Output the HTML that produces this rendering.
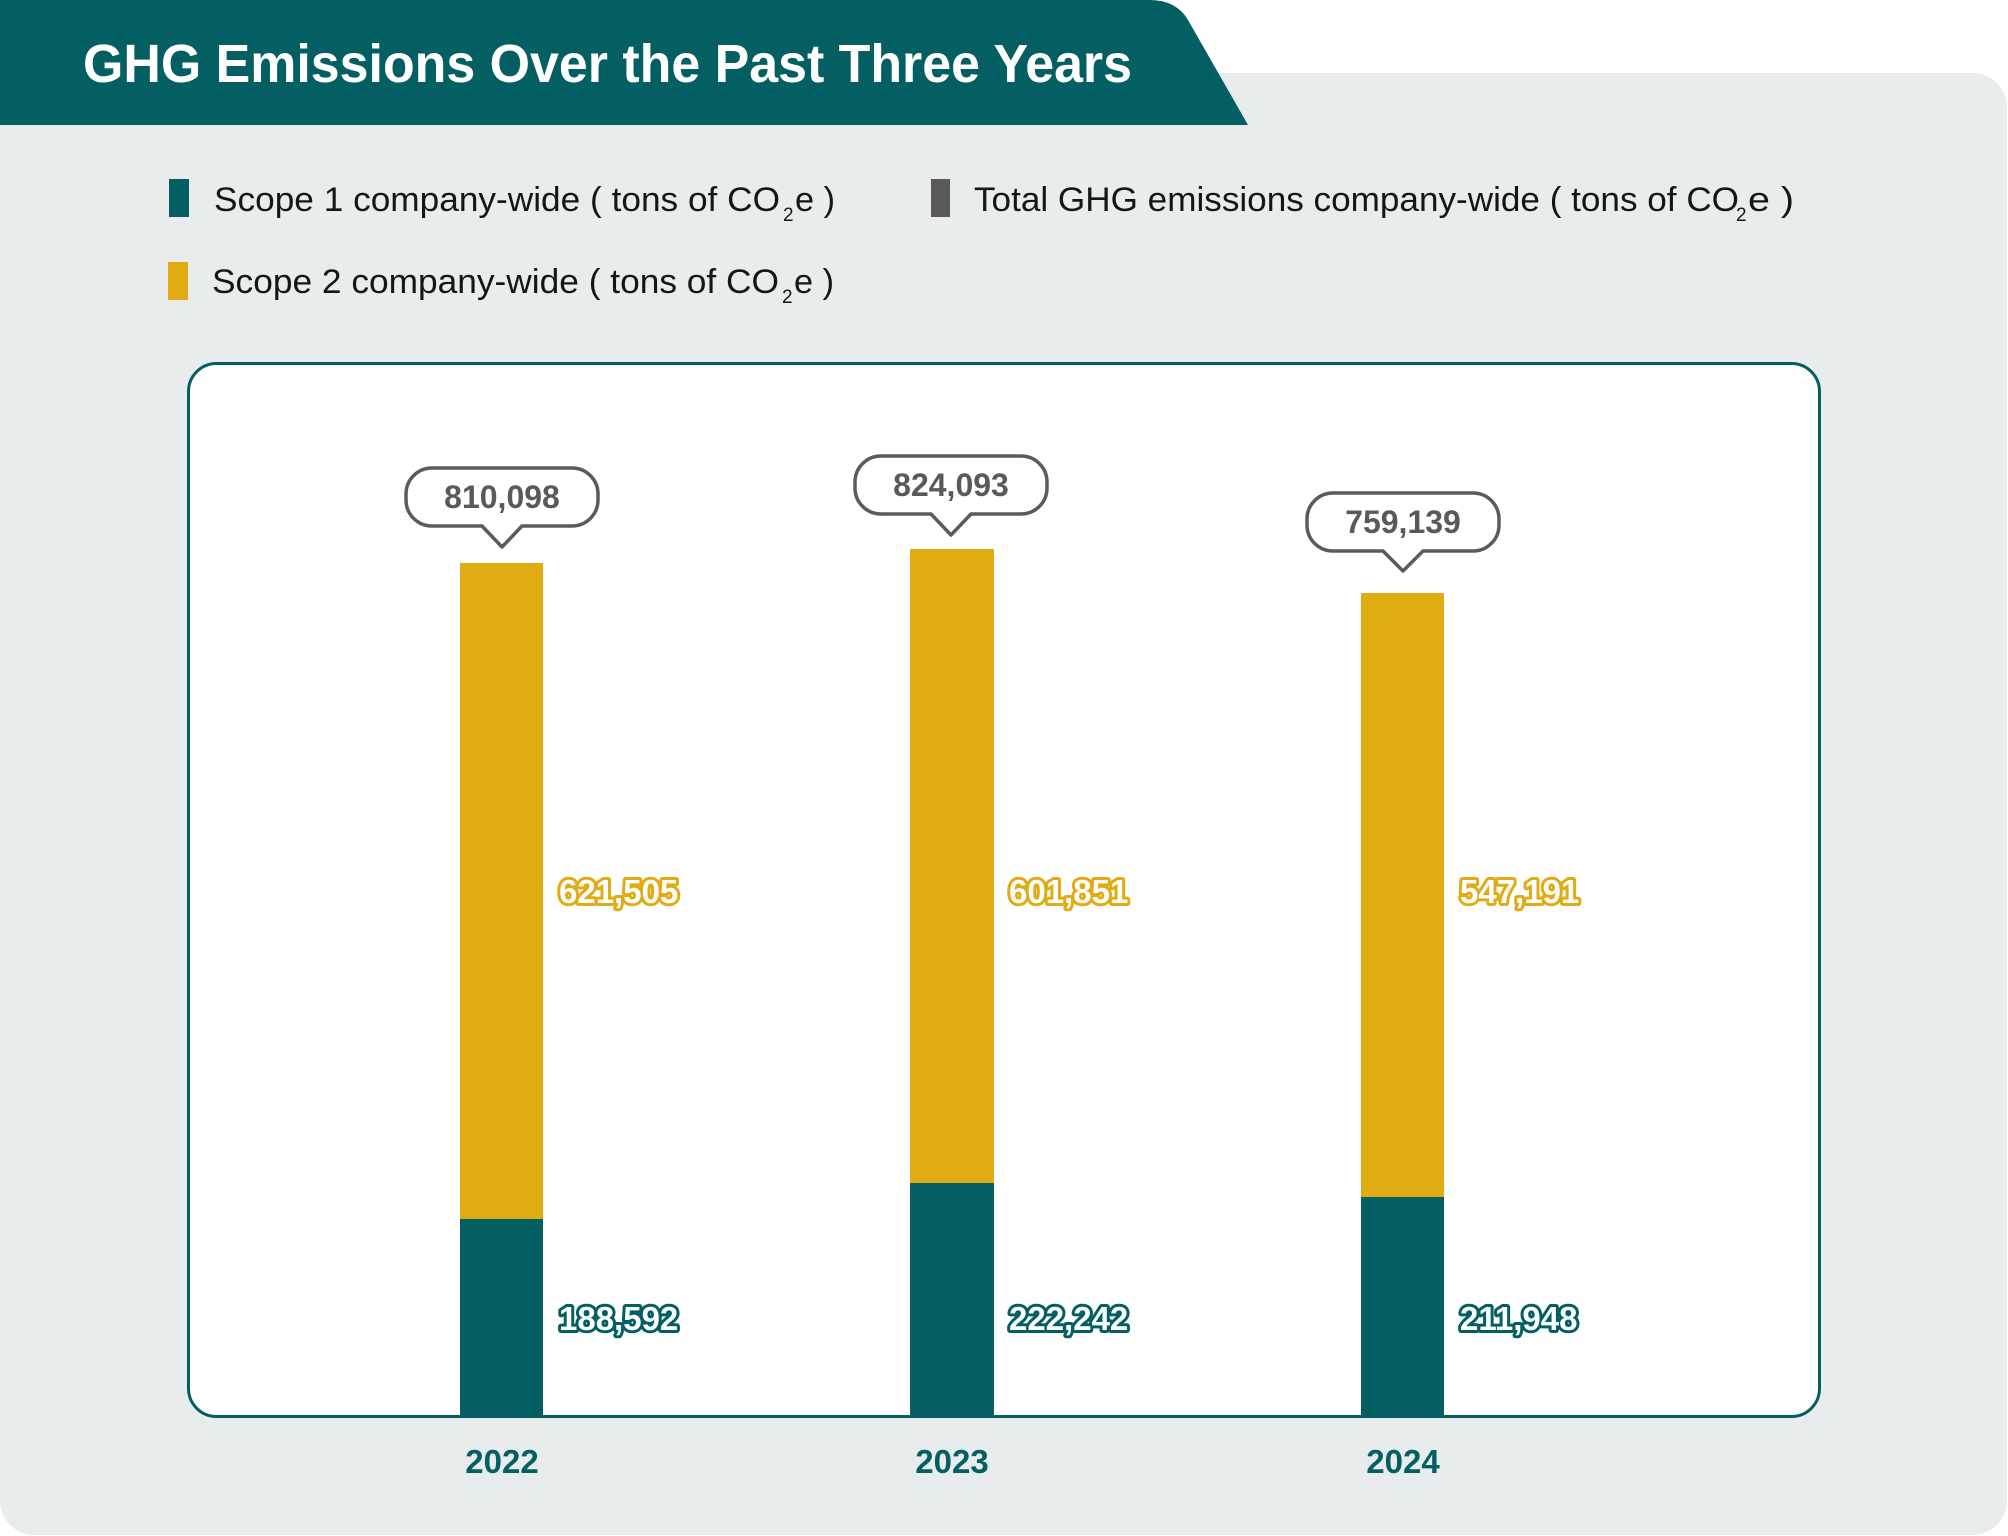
<!DOCTYPE html>
<html>
<head>
<meta charset="utf-8">
<style>
html,body{margin:0;padding:0;background:#ffffff;}
svg{display:block;}
text{font-family:"Liberation Sans",Arial,sans-serif;}
</style>
</head>
<body>
<svg width="2008" height="1536" viewBox="0 0 2008 1536" xmlns="http://www.w3.org/2000/svg">
  <!-- gray panel -->
  <rect x="0" y="73" width="2007" height="1462" rx="34" ry="34" fill="#e8ecec"/>
  <!-- header tab -->
  <path d="M0,0 H1150 Q1176,0 1188,20 L1248,125 H0 Z" fill="#035f62"/>
  <text x="83" y="82" font-size="54" font-weight="bold" fill="#ffffff" textLength="1049" lengthAdjust="spacingAndGlyphs">GHG Emissions Over the Past Three Years</text>

  <!-- legend -->
  <rect x="169" y="179" width="20" height="38" fill="#035f62"/>
  <text x="214" y="211" font-size="34" fill="#151515" textLength="566" lengthAdjust="spacingAndGlyphs">Scope 1 company-wide ( tons of CO</text>
  <text x="783" y="221" font-size="19" fill="#151515">2</text>
  <text x="795" y="211" font-size="34" fill="#151515" textLength="40" lengthAdjust="spacingAndGlyphs">e )</text>

  <rect x="931" y="179" width="19" height="38" fill="#595959"/>
  <text x="974" y="211" font-size="34" fill="#151515" textLength="765" lengthAdjust="spacingAndGlyphs">Total GHG emissions company-wide ( tons of CO</text>
  <text x="1736" y="221" font-size="19" fill="#151515">2</text>
  <text x="1748" y="211" font-size="34" fill="#151515" textLength="46" lengthAdjust="spacingAndGlyphs">e )</text>

  <rect x="168" y="262" width="20" height="38" fill="#e1ab14"/>
  <text x="212" y="293" font-size="34" fill="#151515" textLength="567" lengthAdjust="spacingAndGlyphs">Scope 2 company-wide ( tons of CO</text>
  <text x="782" y="303" font-size="19" fill="#151515">2</text>
  <text x="794" y="293" font-size="34" fill="#151515" textLength="40" lengthAdjust="spacingAndGlyphs">e )</text>

  <!-- chart box -->
  <rect x="188.5" y="363.5" width="1631" height="1053" rx="28" ry="28" fill="#ffffff" stroke="#035f62" stroke-width="3"/>

  <!-- bars -->
  <rect x="460" y="563" width="83" height="656" fill="#e1ab14"/>
  <rect x="460" y="1219" width="83" height="198" fill="#035f62"/>
  <rect x="910" y="549" width="84" height="634" fill="#e1ab14"/>
  <rect x="910" y="1183" width="84" height="234" fill="#035f62"/>
  <rect x="1361" y="593" width="83" height="604" fill="#e1ab14"/>
  <rect x="1361" y="1197" width="83" height="220" fill="#035f62"/>

  <!-- value labels -->
  <g font-size="33" font-weight="bold" fill="#ffffff" stroke-width="6" stroke-linejoin="round" style="paint-order:stroke fill">
    <text x="559" y="903" stroke="#e1ab14">621,505</text>
    <text x="1009" y="903" stroke="#e1ab14">601,851</text>
    <text x="1460" y="903" stroke="#e1ab14">547,191</text>
    <text x="559" y="1330" stroke="#035f62">188,592</text>
    <text x="1009" y="1330" stroke="#035f62">222,242</text>
    <text x="1460" y="1330" stroke="#035f62">211,948</text>
  </g>

  <!-- callouts -->
  <g fill="#ffffff" stroke="#5b5b5b" stroke-width="3.5" stroke-linejoin="round">
    <path d="M432,468 H572 A26,26 0 0 1 598,494 V500 A26,26 0 0 1 572,526 H522 L502,547 L482,526 H432 A26,26 0 0 1 406,500 V494 A26,26 0 0 1 432,468 Z"/>
    <path d="M881,456 H1021 A26,26 0 0 1 1047,482 V488 A26,26 0 0 1 1021,514 H971 L951,535 L931,514 H881 A26,26 0 0 1 855,488 V482 A26,26 0 0 1 881,456 Z"/>
    <path d="M1333,493 H1473 A26,26 0 0 1 1499,519 V525 A26,26 0 0 1 1473,551 H1423 L1403,571 L1383,551 H1333 A26,26 0 0 1 1307,525 V519 A26,26 0 0 1 1333,493 Z"/>
  </g>
  <g font-size="32" font-weight="bold" fill="#595959" text-anchor="middle">
    <text x="502" y="508">810,098</text>
    <text x="951" y="496">824,093</text>
    <text x="1403" y="533">759,139</text>
  </g>

  <!-- year labels -->
  <g font-size="33" font-weight="bold" fill="#035f62" text-anchor="middle">
    <text x="502" y="1473">2022</text>
    <text x="952" y="1473">2023</text>
    <text x="1403" y="1473">2024</text>
  </g>
</svg>
</body>
</html>
